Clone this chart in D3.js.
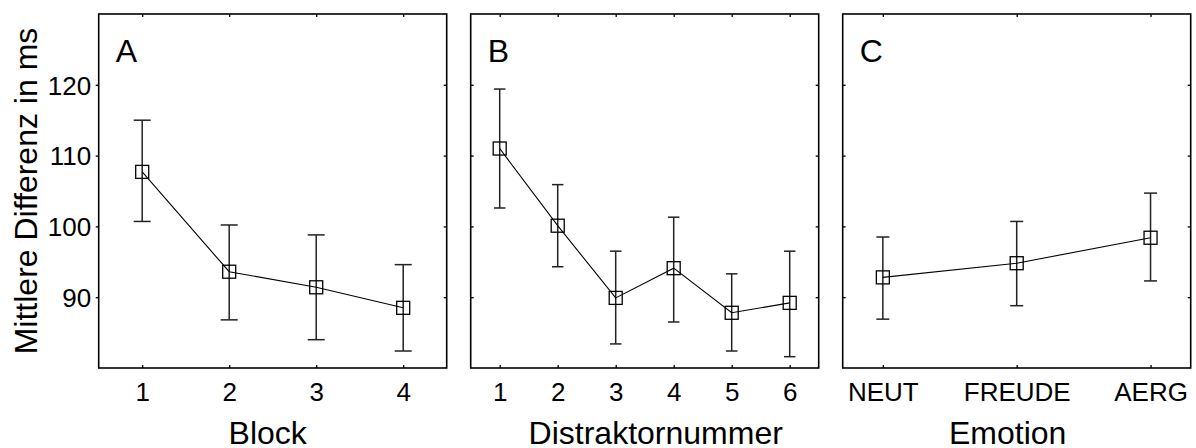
<!DOCTYPE html>
<html>
<head>
<meta charset="utf-8">
<script src="https://cdn.jsdelivr.net/npm/d3@7"></script>
<style>
  body { margin: 0; background: #fff; }
  svg { display: block; }
  text { font-family: "Liberation Sans", Arial, sans-serif; fill: #000; }
</style>
</head>
<body>
<svg id="chart" width="1196" height="448"></svg>
<script>
// data
const yTicks = [90, 100, 110, 120];

const blockCats = [1, 2, 3, 4];
const blockMean = [107.7, 93.6, 91.4, 88.5];
const blockLow  = [100.7, 86.8, 84.0, 82.4];
const blockHigh = [115.0, 100.2, 98.8, 94.6];

const distCats = [1, 2, 3, 4, 5, 6];
const distMean = [111.0, 100.1, 89.9, 94.1, 87.8, 89.2];
const distLow  = [102.6, 94.3, 83.4, 86.5, 82.4, 81.6];
const distHigh = [119.4, 105.9, 96.5, 101.3, 93.3, 96.5];

const emoCats = ["NEUT", "FREUDE", "AERG"];
const emoMean = [92.8, 94.8, 98.4];
const emoLow  = [86.9, 88.8, 92.3];
const emoHigh = [98.5, 100.7, 104.7];

const panels = [
  { letter: "A", title: "Block", cats: blockCats, mean: blockMean, low: blockLow, high: blockHigh,
    left: 98.7, xdom: [0.5, 4.5], cap: 17, titleDx: -5, yLabels: true },
  { letter: "B", title: "Distraktornummer", cats: distCats, mean: distMean, low: distLow, high: distHigh,
    left: 470.7, xdom: [0.5, 6.5], cap: 11.5, titleDx: 11, yLabels: false },
  { letter: "C", title: "Emotion", cats: emoCats, mean: emoMean, low: emoLow, high: emoHigh,
    left: 842.7, xdom: [0.7, 3.3], cap: 13, titleDx: -9, yLabels: false }
];

const W = 348, plotTop = 14, plotBottom = 368;
const svg = d3.select("#chart");

const y = d3.scaleLinear().domain([80, 130]).range([plotBottom, plotTop]);

function styleAxis(g) {
  g.select(".domain").remove();
  g.selectAll(".tick line").attr("stroke", "#000").attr("stroke-width", 1.3);
  g.selectAll(".tick text").style("font-size", "26px")
    .style("font-family", '"Liberation Sans", Arial, sans-serif').attr("fill", "#000");
}

panels.forEach(p => {
  const x = d3.scaleLinear().domain(p.xdom).range([p.left, p.left + W]);
  const idx = p.cats.map((c, i) => i + 1);
  const g = svg.append("g");

  // bottom axis, inward ticks
  const bx = g.append("g").attr("transform", "translate(0," + plotBottom + ")")
    .call(d3.axisBottom(x).tickValues(idx).tickSize(-3).tickFormat((d, i) => p.cats[i]));
  styleAxis(bx);
  bx.selectAll(".tick text").attr("y", 33).attr("dy", null);

  // top axis ticks
  const tx = g.append("g").attr("transform", "translate(0," + plotTop + ")")
    .call(d3.axisTop(x).tickValues(idx).tickSize(-3).tickFormat(""));
  styleAxis(tx);

  // left axis
  const ly = g.append("g").attr("transform", "translate(" + p.left + ",0)")
    .call(d3.axisLeft(y).tickValues(yTicks).tickSize(p.yLabels ? 3 : -3)
      .tickPadding(4.5).tickFormat(p.yLabels ? d3.format("d") : ""));
  styleAxis(ly);
  ly.selectAll(".tick text").attr("dy", "0.36em");

  // right axis
  const ry = g.append("g").attr("transform", "translate(" + (p.left + W) + ",0)")
    .call(d3.axisRight(y).tickValues(yTicks).tickSize(-3).tickFormat(""));
  styleAxis(ry);

  // frame
  g.append("rect")
    .attr("x", p.left).attr("y", plotTop)
    .attr("width", W).attr("height", plotBottom - plotTop)
    .attr("fill", "none").attr("stroke", "#000").attr("stroke-width", 1.6);

  // panel letter
  g.append("text").text(p.letter)
    .attr("x", p.left + 17).attr("y", 62)
    .style("font-size", "32px");

  // axis title
  g.append("text").text(p.title)
    .attr("x", p.left + W / 2 + p.titleDx).attr("y", 444)
    .attr("text-anchor", "middle")
    .style("font-size", "32px");

  const pts = idx.map((v, i) => ({ x: v, m: p.mean[i], lo: p.low[i], hi: p.high[i] }));

  // error bars
  const eb = g.append("g").attr("stroke", "#222").attr("stroke-width", 1.5);
  pts.forEach(d => {
    eb.append("line").attr("x1", x(d.x)).attr("x2", x(d.x)).attr("y1", y(d.lo)).attr("y2", y(d.hi));
    eb.append("line").attr("x1", x(d.x) - p.cap / 2).attr("x2", x(d.x) + p.cap / 2).attr("y1", y(d.hi)).attr("y2", y(d.hi));
    eb.append("line").attr("x1", x(d.x) - p.cap / 2).attr("x2", x(d.x) + p.cap / 2).attr("y1", y(d.lo)).attr("y2", y(d.lo));
  });

  // mean line
  g.append("path").datum(pts)
    .attr("d", d3.line().x(d => x(d.x)).y(d => y(d.m)))
    .attr("fill", "none").attr("stroke", "#000").attr("stroke-width", 1.1);

  // square markers
  g.selectAll(".mk").data(pts).enter().append("rect")
    .attr("x", d => x(d.x) - 6.5).attr("y", d => y(d.m) - 6.5)
    .attr("width", 13).attr("height", 13)
    .attr("fill", "none").attr("stroke", "#000").attr("stroke-width", 1.3);
});

// y axis title
svg.append("text").text("Mittlere Differenz in ms")
  .attr("transform", "translate(36.5," + ((plotTop + plotBottom) / 2) + ") rotate(-90)")
  .attr("text-anchor", "middle")
  .style("font-size", "32px");
</script>
</body>
</html>
